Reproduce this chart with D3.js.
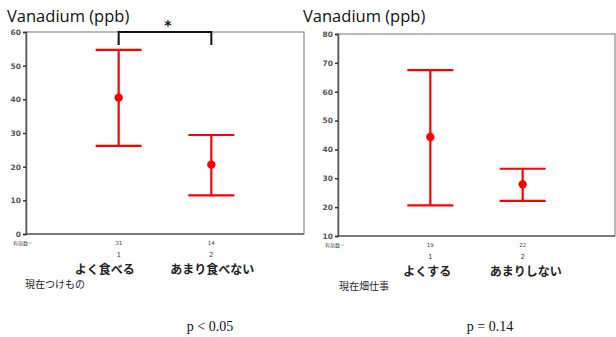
<!DOCTYPE html>
<html>
<head>
<meta charset="utf-8">
<script src="https://cdn.jsdelivr.net/npm/d3@7"></script>
<style>
  body { margin: 0; background: #fff; }
  svg { display: block; }
</style>
</head>
<body>
<div id="chart"></div>
<script>
// values (mean with lower / upper whisker)
const leftGroups = ['よく食べる', 'あまり食べない'];
const leftN = [31, 14];
const leftMean = [40.5, 20.6];
const leftLow = [26.2, 11.5];
const leftHigh = [54.7, 29.4];
const leftTicks = [0, 10, 20, 30, 40, 50, 60];

const rightGroups = ['よくする', 'あまりしない'];
const rightN = [19, 22];
const rightMean = [44.3, 27.9];
const rightLow = [20.6, 22.2];
const rightHigh = [67.5, 33.3];
const rightTicks = [10, 20, 30, 40, 50, 60, 70, 80];

const W = 616, H = 337;

const svg = d3.select('#chart').append('svg')
  .attr('width', W)
  .attr('height', H);

//one panel = frame, axis, error bars, labels
function panel(opts) {
  const x = d3.scaleLinear().domain([0, 3]).range([opts.left, opts.right]);
  const y = d3.scaleLinear().domain(opts.domain).range([opts.bottom, opts.top]);
  const rows = opts.groups.map((g, i) => ({
    g: g, i: i + 1, n: opts.n[i], mean: opts.mean[i], low: opts.low[i], high: opts.high[i]
  }));

  const g = svg.append('g');

  //title
  g.append('text')
    .attr('x', opts.titleX)
    .attr('y', 22)
    .attr('font-family', 'Open Sans, Noto Sans, sans-serif')
    .attr('font-size', 16.5)
    .attr('fill', '#111')
    .text('Vanadium (ppb)');

  //frame
  g.append('rect')
    .attr('x', opts.left)
    .attr('y', opts.top)
    .attr('width', opts.right - opts.left)
    .attr('height', opts.bottom - opts.top)
    .attr('fill', 'none')
    .attr('stroke', '#777')
    .attr('stroke-width', 1);

  g.append('line')
    .attr('x1', opts.left).attr('x2', opts.right)
    .attr('y1', opts.bottom).attr('y2', opts.bottom)
    .attr('stroke', '#666')
    .attr('stroke-width', 1.5);

  const yAxis = d3.axisLeft(y).tickValues(opts.ticks).tickSize(3).tickPadding(2);
  const ax = g.append('g')
    .attr('transform', `translate(${opts.left},0)`)
    .call(yAxis);
  ax.select('.domain').attr('stroke', '#555').attr('stroke-width', 1.5);
  ax.selectAll('.tick line').attr('stroke', '#333').attr('stroke-width', 1.5);
  ax.selectAll('.tick text')
    .attr('font-family', 'DejaVu Sans, sans-serif')
    .attr('font-size', 7.5)
    .attr('font-weight', 'bold')
    .attr('fill', '#555');

  //error bars
  const bars = g.selectAll('.bar').data(rows).enter().append('g').attr('class', 'bar');
  bars.append('line')
    .attr('x1', (d) => x(d.i)).attr('x2', (d) => x(d.i))
    .attr('y1', (d) => y(d.low)).attr('y2', (d) => y(d.high))
    .attr('stroke', 'red').attr('stroke-width', 2.2);
  bars.append('line')
    .attr('x1', (d) => x(d.i) - 23).attr('x2', (d) => x(d.i) + 23)
    .attr('y1', (d) => y(d.high)).attr('y2', (d) => y(d.high))
    .attr('stroke', 'red').attr('stroke-width', 2.2);
  bars.append('line')
    .attr('x1', (d) => x(d.i) - 23).attr('x2', (d) => x(d.i) + 23)
    .attr('y1', (d) => y(d.low)).attr('y2', (d) => y(d.low))
    .attr('stroke', 'red').attr('stroke-width', 2.2);
  bars.append('circle')
    .attr('cx', (d) => x(d.i))
    .attr('cy', (d) => y(d.mean))
    .attr('r', 4.2)
    .attr('fill', 'red');

  //counts under the axis
  g.append('text')
    .attr('x', opts.left - 13)
    .attr('y', opts.bottom + 11)
    .attr('font-family', 'Noto Sans CJK JP, sans-serif')
    .attr('font-size', 5)
    .attr('fill', '#444')
    .text('有効数 =');
  bars.append('text')
    .attr('x', (d) => x(d.i))
    .attr('y', opts.bottom + 11)
    .attr('text-anchor', 'middle')
    .attr('font-family', 'DejaVu Sans, sans-serif')
    .attr('font-size', 5.5)
    .attr('fill', '#444')
    .text((d) => d.n);
  bars.append('text')
    .attr('x', (d) => x(d.i))
    .attr('y', opts.bottom + 23)
    .attr('text-anchor', 'middle')
    .attr('font-family', 'DejaVu Sans, sans-serif')
    .attr('font-size', 7)
    .attr('fill', '#444')
    .text((d) => d.i);
  bars.append('text')
    .attr('x', (d, i) => x(d.i) + opts.labelShift[i])
    .attr('y', opts.bottom + 40)
    .attr('text-anchor', 'middle')
    .attr('font-family', 'Noto Sans CJK JP, sans-serif')
    .attr('font-weight', 'bold')
    .attr('font-size', 12)
    .attr('fill', '#222')
    .text((d) => d.g);

  g.append('text')
    .attr('x', opts.nameX)
    .attr('y', opts.bottom + 54)
    .attr('font-family', 'Noto Sans CJK JP, sans-serif')
    .attr('font-size', 10)
    .attr('fill', '#222')
    .text(opts.name);

  g.append('text')
    .attr('x', opts.pX)
    .attr('y', 331)
    .attr('text-anchor', 'middle')
    .attr('font-family', 'Liberation Serif, serif')
    .attr('font-size', 14)
    .attr('fill', '#111')
    .text(opts.p);

  return { x: x, y: y, g: g };
}

const L = panel({
  left: 26, right: 304, top: 32, bottom: 234,
  domain: [0, 60], ticks: leftTicks,
  groups: leftGroups, n: leftN, mean: leftMean, low: leftLow, high: leftHigh,
  titleX: 7, nameX: 25, name: '現在つけもの', labelShift: [-14, 1],
  pX: 210, p: 'p < 0.05'
});

panel({
  left: 338, right: 615, top: 34, bottom: 236,
  domain: [10, 80], ticks: rightTicks,
  groups: rightGroups, n: rightN, mean: rightMean, low: rightLow, high: rightHigh,
  titleX: 303, nameX: 339, name: '現在畑仕事', labelShift: [-3, 3],
  pX: 490, p: 'p = 0.14'
});

//significance bracket between the left groups
const bx1 = L.x(1), bx2 = L.x(2), by = L.y(60);
L.g.append('path')
  .attr('d', `M${bx1},${by + 13}V${by}H${bx2}V${by + 13}`)
  .attr('fill', 'none')
  .attr('stroke', '#111')
  .attr('stroke-width', 2);
L.g.append('text')
  .attr('x', (bx1 + bx2) / 2 + 3)
  .attr('y', by - 2)
  .attr('text-anchor', 'middle')
  .attr('font-family', 'DejaVu Sans, sans-serif')
  .attr('font-weight', 'bold')
  .attr('font-size', 14)
  .attr('fill', '#111')
  .text('*');
</script>
</body>
</html>
